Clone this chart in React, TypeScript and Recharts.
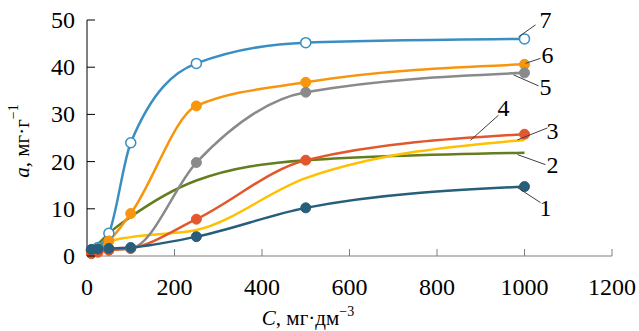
import React from 'react'
import { LineChart, Line, XAxis, YAxis, LabelList } from 'recharts'

// concentration C, mg/dm3
const concentrations = [10, 25, 50, 100, 250, 500, 1000]

// adsorption a, mg/g, curves 1..7
const curve1 = [1.4, 1.5, 1.6, 1.8, 4.1, 10.2, 14.7]
const curve2 = [1.0, 2.5, 4.8, 8.3, 16.0, 20.3, 21.9]
const curve3 = [0.8, 1.4, 3.0, 4.0, 5.5, 16.5, 24.6]
const curve4 = [0.5, 0.8, 1.2, 1.6, 7.8, 20.3, 25.8]
const curve5 = [1.0, 1.2, 1.4, 1.6, 19.8, 34.7, 38.8]
const curve6 = [1.0, 1.5, 3.2, 9.0, 31.8, 36.8, 40.6]
const curve7 = [1.2, 1.8, 4.8, 24.0, 40.8, 45.2, 46.0]

const curveNames = ['1', '2', '3', '4', '5', '6', '7']
const xTicks = [0, 200, 400, 600, 800, 1000, 1200]
const yTicks = [0, 10, 20, 30, 40, 50]

const data = concentrations.map((c, i) => ({
  c,
  s1: curve1[i],
  s2: curve2[i],
  s3: curve3[i],
  s4: curve4[i],
  s5: curve5[i],
  s6: curve6[i],
  s7: curve7[i],
}))

const FONT = 'Liberation Serif'
const txt = { fontFamily: FONT }
const last = concentrations.length - 1

// leader line + number offsets relative to the last point of each curve
const leaders: Record<string, { l: number[]; t: number[] }> = {
  '1': { l: [-7, 1, 16, 16], t: [21, 21] },
  '2': { l: [-7, 2, 21, 12], t: [28, 12] },
  '3': { l: [-7, 0, 23, -12], t: [28, -9] },
  '4': { l: [-54, 6, -26, -19], t: [-21, -26] },
  '5': { l: [-11, 2, 14, 13], t: [21, 14] },
  '6': { l: [1, -1, 16, -6], t: [23, -9] },
  '7': { l: [-6, -2, 11, -14], t: [21, -19] },
}

function leaderLabel(name: string) {
  return (props: any) => {
    if (props.index !== last) return null
    const x = Number(props.x)
    const y = Number(props.y)
    const { l, t } = leaders[name]
    return (
      <g>
        <line x1={x + l[0]} y1={y + l[1]} x2={x + l[2]} y2={y + l[3]} stroke="#404040" strokeWidth={1} />
        <text x={x + t[0]} y={y + t[1]} textAnchor="middle" dominantBaseline="central" style={txt} fontSize={24} fill="#000">
          {name}
        </text>
      </g>
    )
  }
}

const XTick = (props: any) => {
  const { x, y, payload } = props
  return (
    <g>
      {payload.value !== 0 && <line x1={x} x2={x} y1={y} y2={y - 7} stroke="#7f7f7f" strokeWidth={1} />}
      <text x={x} y={y + 39} textAnchor="middle" style={txt} fontSize={24} fill="#000">
        {payload.value}
      </text>
    </g>
  )
}

const YTick = (props: any) => {
  const { x, y, payload } = props
  return (
    <g>
      <line x1={x} x2={x + 8} y1={y} y2={y} stroke="#000" strokeWidth={1} />
      <text x={x - 12} y={y} textAnchor="end" dominantBaseline="central" style={txt} fontSize={24} fill="#000">
        {payload.value}
      </text>
    </g>
  )
}

const YTitle = () => (
  <text x={22} y={141} transform="rotate(-90 22 141)" textAnchor="middle" dominantBaseline="central" style={txt} fontSize={21} fill="#000">
    <tspan fontStyle="italic">a</tspan>, мг·г<tspan dy={-9} fontSize={14}>−1</tspan>
  </text>
)

const XTitle = () => (
  <text x={308} y={325} textAnchor="middle" style={txt} fontSize={21} fill="#000">
    <tspan fontStyle="italic">C</tspan>, мг·дм<tspan dy={-9} fontSize={14}>−3</tspan>
  </text>
)

const styles = [
  { key: 's2', name: '2', color: '#647d1e', dots: false },
  { key: 's3', name: '3', color: '#ffc000', dots: false },
  { key: 's7', name: '7', color: '#3b8ec2', dots: true, open: true },
  { key: 's6', name: '6', color: '#f7960e', dots: true },
  { key: 's5', name: '5', color: '#8a8a8a', dots: true },
  { key: 's4', name: '4', color: '#e2582c', dots: true },
  { key: 's1', name: '1', color: '#275e7b', dots: true },
]

export default function App() {
  return (
    <div style={{ width: 639, height: 331, background: '#fff', fontFamily: FONT }}>
      <style>{'body{margin:0}'}</style>
      <LineChart width={639} height={331} data={data} margin={{ top: 20, right: 27, left: 0, bottom: 0 }}>
        <XAxis
          dataKey="c"
          type="number"
          domain={[0, 1200]}
          ticks={xTicks}
          height={75}
          tickSize={0}
          tickMargin={0}
          tickLine={false}
          axisLine={{ stroke: '#7f7f7f', strokeWidth: 1 }}
          tick={XTick}
          label={{ content: XTitle }}
        />
        <YAxis
          type="number"
          domain={[0, 50]}
          ticks={yTicks}
          width={87}
          tickSize={0}
          tickMargin={0}
          tickLine={false}
          axisLine={{ stroke: '#000', strokeWidth: 1 }}
          tick={YTick}
          label={{ content: YTitle }}
        />
        {styles.map((s) => (
          <Line
            key={s.key}
            dataKey={s.key}
            name={curveNames[Number(s.name) - 1]}
            type="monotone"
            stroke={s.color}
            strokeWidth={2.5}
            dot={
              s.dots
                ? { r: 5, fill: s.open ? '#fff' : s.color, stroke: s.color, strokeWidth: s.open ? 1.5 : 1 }
                : false
            }
            activeDot={false}
            isAnimationActive={false}
          >
            <LabelList dataKey={s.key} content={leaderLabel(s.name)} />
          </Line>
        ))}
      </LineChart>
    </div>
  )
}
